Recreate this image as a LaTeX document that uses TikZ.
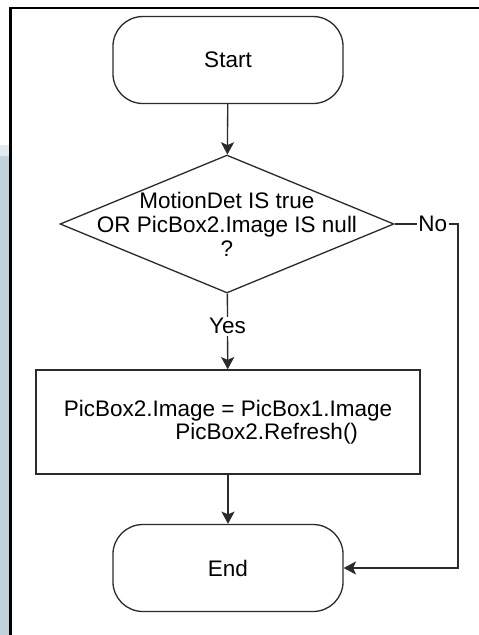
\documentclass[tikz,border=0pt]{standalone}
\usepackage{fontspec}
\setmainfont{Liberation Sans}
\usetikzlibrary{shapes.geometric, arrows.meta}

\definecolor{bandblue}{HTML}{C3D3DB}
\definecolor{bandlight}{HTML}{E2EBEF}
\definecolor{flowline}{HTML}{2B2B2B}

\begin{document}
\begin{tikzpicture}[x=0.569pt, y=-0.569pt]

\tikzset{terminal/.style = {shape=rectangle, draw=flowline, line width=0.75pt, rounded corners=17pt, minimum width=130.9pt, minimum height=49.5pt}}
\tikzset{decision/.style = {shape=diamond, draw=flowline, line width=0.75pt, inner sep=0pt, minimum width=190pt, minimum height=78.5pt}}
\tikzset{process/.style = {shape=rectangle, draw=flowline, line width=0.75pt, minimum width=218.5pt, minimum height=59.2pt, align=left}}
\tikzset{edge/.style = {->, > = {Stealth[length=7pt, width=7.5pt, inset=1.6pt]}, draw=flowline, line width=0.75pt}}
\tikzset{answer/.style = {fill=white, inner sep=1pt}}
\tikzset{every node/.style = {font=\fontsize{12.8}{13.4}\selectfont}}

\useasboundingbox (0,0) rectangle (479,635);
%page edge
\fill[bandlight] (0,145) rectangle (9.5,156);
\fill[bandblue] (0,156) rectangle (9.5,635);
\draw[line width=1.2pt] (10.5,635) -- (10.5,8) -- (479,8);

%nodes
\node[terminal] (start) at (228,60) {Start};
\node[decision, label={[align=center, font=\fontsize{12.8}{13.6}\selectfont]center:MotionDet IS true\\OR PicBox2.Image IS null\\?}] (decide) at (227,224) {};
\node[process] (update) at (228,422) {PicBox2.Image = PicBox1.Image\\\hspace*{63.5pt}PicBox2.Refresh()};
\node[terminal] (stop) at (228,568) {End};
\coordinate (noturn) at (458,224);
\coordinate (nodown) at (458,568);

%edges
\draw [edge] (start) -- (decide);
\draw [edge] (decide) -- (update) node [answer, pos=0.43] {Yes};
\draw [edge] (update) -- (stop);
\draw [edge] (decide.east) -- (noturn) node [answer, pos=0.6] {No} -- (nodown) -- (stop.east);

\end{tikzpicture}
\end{document}
